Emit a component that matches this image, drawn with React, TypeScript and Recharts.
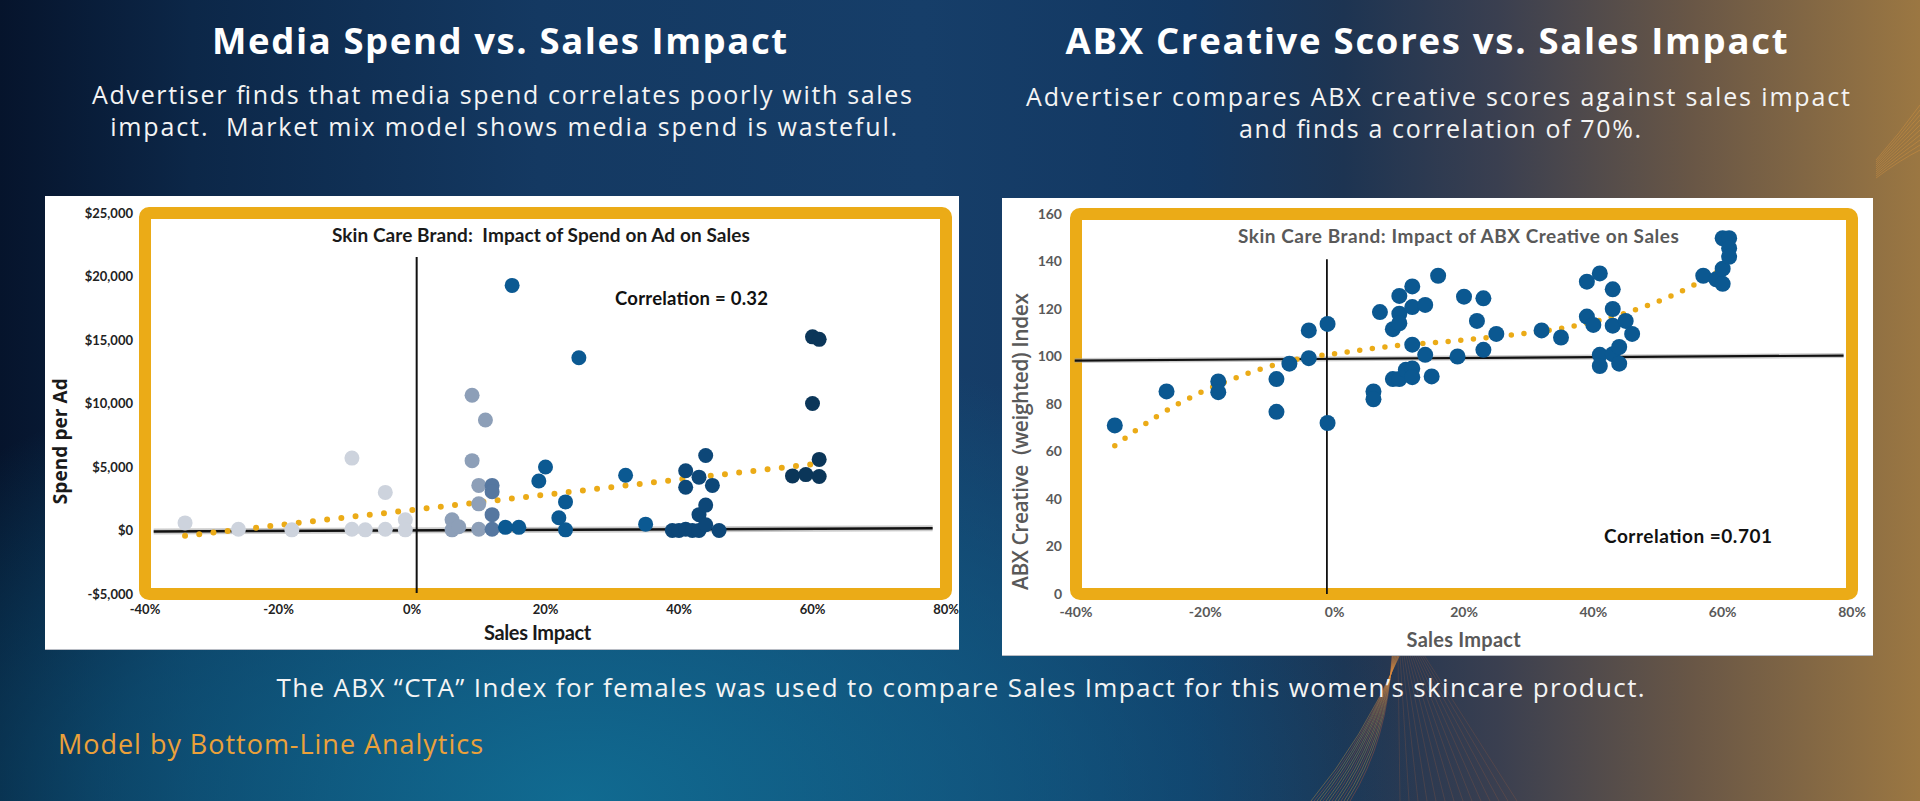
import React from 'react';
import { ComposedChart, Scatter, Line, XAxis, YAxis, ReferenceLine, ReferenceArea } from 'recharts';

// ---------- shared ticks ----------
const impactTicks = [-40, -20, 0, 20, 40, 60, 80];
const spendTicks = [-5000, 0, 5000, 10000, 15000, 20000, 25000];
const indexTicks = [0, 20, 40, 60, 80, 100, 120, 140, 160];

// ---------- left chart: Media spend vs sales impact ----------
const spendLightX = [-34, -26, -18, -9, -9, -7, -4, -4, -1, -1];
const spendLightY = [600, 100, 50, 5700, 100, 50, 3000, 100, 850, 50];
const spendGrayX = [6, 6, 7, 9, 9, 10, 10, 10, 11];
const spendGrayY = [850, 50, 300, 10650, 5500, 3550, 2100, 100, 8700];
const spendSteelX = [12, 12, 12, 12];
const spendSteelY = [3550, 3050, 1250, 100];
const spendBlueX = [14, 15, 16, 19, 20, 22, 23, 23, 25, 32, 35];
const spendBlueY = [250, 19300, 250, 3900, 5000, 1000, 2250, 50, 13600, 4350, 500];
const spendNavyX = [39, 40, 41, 41, 41, 42, 43, 43, 43, 44, 44, 44, 45, 46];
const spendNavyY = [0, 0, 4700, 3400, 100, 0, 4200, 1250, 0, 5900, 2000, 450, 3550, 0];
const spendDarkX = [57, 59, 60, 61, 60, 61, 61];
const spendDarkY = [4300, 4400, 15250, 15050, 10000, 5600, 4250];
const spendTrendX = [-34, 60];
const spendTrendY = [-420, 5220];

// ---------- right chart: ABX creative vs sales impact ----------
const abxX = [-34, -26, -18, -18, -9, -9, -7, -4, -4, -1.1, -1.1, 6, 6, 7, 9, 10, 10, 10, 9, 10,
  11, 12, 12, 12, 12, 12, 14, 14, 15, 16, 19, 20, 22, 23, 23, 25, 32, 35, 39, 39,
  40, 41, 41, 41, 43, 43, 43, 43, 44, 44, 45, 46, 57, 59, 60, 60, 61, 60, 61, 61];
const abxY = [71, 85.3, 89.5, 85, 90.5, 76.7, 97, 111, 99.3, 113.7, 72, 85.3, 82, 118.7, 111.5, 125.5, 118, 114, 90.5, 90.5,
  94.4, 129.5, 120.8, 105, 95, 91.3, 121.7, 100.7, 91.6, 134, 100, 125.2, 115, 124.5, 102.8, 109.5, 111, 108, 131.5, 116.8,
  113.3, 135, 100.7, 96, 128.3, 120, 113, 101, 104, 97, 115, 109.5, 134, 132.5, 130.6, 149.8, 149.8, 137, 145.6, 142];
const abxTrendX = [-34, -27.5, -20.6, -13.6, -6.2, 1.8, 9.3, 17.3, 25.1, 33, 40.6, 47.9, 54.9, 60.2];
const abxTrendY = [62.4, 74.8, 85, 92.7, 98.6, 101.8, 104.5, 106.3, 108.4, 111, 115, 121, 129.2, 137.2];

const zip = (xs: number[], ys: number[]) => xs.map((x, i) => ({ x, y: ys[i] }));

const ORANGE = '#EBAB17';
const NARROW = 'Lato, "Open Sans", sans-serif';
const SANS = '"Open Sans", "Noto Sans", sans-serif';

const dot = (r: number, fill: string) => (p: any) => (
  <circle cx={p.cx} cy={p.cy} r={r} fill={fill} />
);

const fmtPct = (v: number) => `${v}%`;
const fmtMoney = (v: number) => (v < 0 ? `-$${Math.abs(v).toLocaleString('en-US')}` : `$${v.toLocaleString('en-US')}`);

function SpendChart() {
  return (
    <ComposedChart width={914} height={453} margin={{ top: 17, right: 13, bottom: 25, left: 40 }}>
      <XAxis dataKey="x" type="number" domain={[-40, 80]} ticks={impactTicks} tickFormatter={fmtPct}
        axisLine={false} tickLine={false} height={30} tickMargin={5} interval={0}
        tick={{ fill: '#222', fontSize: 13, fontWeight: 700, fontFamily: NARROW }} />
      <YAxis dataKey="y" type="number" domain={[-5000, 25000]} ticks={spendTicks} tickFormatter={fmtMoney}
        axisLine={false} tickLine={false} width={60} tickMargin={6} interval={0}
        tick={{ fill: '#222', fontSize: 13, fontWeight: 700, fontFamily: NARROW }} />
      <ReferenceArea x1={-40} x2={80} y1={-5000} y2={25000} fill="none" stroke={ORANGE} strokeWidth={12} radius={4} ifOverflow="visible" />
      <ReferenceLine segment={[{ x: -38.7, y: -80 }, { x: 78, y: 180 }]} stroke="#9a9a9a" strokeOpacity={0.5} strokeWidth={6} ifOverflow="visible" />
      <ReferenceLine segment={[{ x: -38.7, y: -80 }, { x: 78, y: 180 }]} stroke="#111" strokeWidth={2.5} ifOverflow="visible" />
      <ReferenceLine segment={[{ x: 0.7, y: 21540 }, { x: 0.7, y: -4925 }]} stroke="#111" strokeWidth={2} ifOverflow="visible" />
      <Scatter data={zip(spendLightX, spendLightY)} dataKey="y" isAnimationActive={false} shape={dot(7.5, '#cdd3dd')} />
      <Scatter data={zip(spendGrayX, spendGrayY)} dataKey="y" isAnimationActive={false} shape={dot(7.5, '#8d9fb8')} />
      <Scatter data={zip(spendSteelX, spendSteelY)} dataKey="y" isAnimationActive={false} shape={dot(7.5, '#5677a0')} />
      <Scatter data={zip(spendBlueX, spendBlueY)} dataKey="y" isAnimationActive={false} shape={dot(7.5, '#0b5992')} />
      <Scatter data={zip(spendNavyX, spendNavyY)} dataKey="y" isAnimationActive={false} shape={dot(7.5, '#0d4778')} />
      <Scatter data={zip(spendDarkX, spendDarkY)} dataKey="y" isAnimationActive={false} shape={dot(7.5, '#0b3659')} />
      <Line data={zip(spendTrendX, spendTrendY)} dataKey="y" type="linear" stroke={ORANGE} strokeWidth={6}
        strokeDasharray="0 14.3" strokeLinecap="round" dot={false} activeDot={false} isAnimationActive={false} />
    </ComposedChart>
  );
}

function AbxChart() {
  return (
    <ComposedChart width={871} height={457} margin={{ top: 16, right: 21, bottom: 31, left: 24 }}>
      <XAxis dataKey="x" type="number" domain={[-40, 80]} ticks={impactTicks} tickFormatter={fmtPct}
        axisLine={false} tickLine={false} height={30} tickMargin={7} interval={0}
        tick={{ fill: '#595959', fontSize: 14, fontWeight: 700, fontFamily: NARROW }} />
      <YAxis dataKey="y" type="number" domain={[0, 160]} ticks={indexTicks}
        axisLine={false} tickLine={false} width={50} tickMargin={8} interval={0}
        tick={{ fill: '#595959', fontSize: 14, fontWeight: 700, fontFamily: NARROW }} />
      <ReferenceArea x1={-40} x2={80} y1={0} y2={160} fill="none" stroke={ORANGE} strokeWidth={12} radius={4} ifOverflow="visible" />
      <ReferenceLine segment={[{ x: -40.2, y: 98.3 }, { x: 78.7, y: 100.4 }]} stroke="#9a9a9a" strokeOpacity={0.5} strokeWidth={5} ifOverflow="visible" />
      <ReferenceLine segment={[{ x: -40.2, y: 98.3 }, { x: 78.7, y: 100.4 }]} stroke="#111" strokeWidth={2.2} ifOverflow="visible" />
      <ReferenceLine segment={[{ x: -1.2, y: 141 }, { x: -1.2, y: 0 }]} stroke="#111" strokeWidth={1.8} ifOverflow="visible" />
      <Scatter data={zip(abxX, abxY)} dataKey="y" isAnimationActive={false} shape={dot(8, '#0b5891')} />
      <Line data={zip(abxTrendX, abxTrendY)} dataKey="y" type="monotone" stroke={ORANGE} strokeWidth={5.5}
        strokeDasharray="0 12.7" strokeLinecap="round" dot={false} activeDot={false} isAnimationActive={false} />
    </ComposedChart>
  );
}

// decorative thin line fans of the slide background
const fanBottom = Array.from({ length: 14 }, (_, i) => i);
const fanTop = Array.from({ length: 10 }, (_, i) => i);

export default function App() {
  return (
    <div style={{ position: 'absolute', left: 0, top: 0, width: 1920, height: 801, overflow: 'hidden',
      background: [
        'radial-gradient(ellipse 55% 75% at 30% 100%, rgba(16,112,150,0.9) 0%, rgba(14,100,140,0.55) 45%, rgba(14,90,130,0) 80%)',
        'linear-gradient(90deg, #06142c 0%, #0c2748 10%, #143962 28%, #163e69 48%, #133862 62%, #1d3452 70%, #3a3f50 78%, #685646 88%, #9b7742 100%)',
      ].join(',') }}>
      <style>{'body{margin:0}'}</style>

      {/* slide texts */}
      <svg width={1920} height={801} style={{ position: 'absolute', left: 0, top: 0 }}>
        {fanBottom.map((i) => (
          <path key={'b' + i} d={`M ${1392 + i * 0.6} 655 Q ${1388 - i * 2} 740 ${1350 - i * 3} 801`} stroke={i % 3 === 0 ? '#d0603a' : '#e0a040'} strokeOpacity={0.45} strokeWidth={0.8} fill="none" />
        ))}
        {fanBottom.map((i) => (
          <path key={'c' + i} d={`M ${1398 + i * 2} 655 L ${1400 + i * 9} 801`} stroke="#d0703a" strokeOpacity={0.25} strokeWidth={0.7} fill="none" />
        ))}
        {fanTop.map((i) => (
          <path key={'t' + i} d={`M 1876 ${178 - i * 2} Q 1900 ${160 - i * 3} 1920 ${150 - i * 5}`} stroke="#f0a040" strokeOpacity={0.4} strokeWidth={0.8} fill="none" />
        ))}
        <text x={499.6} y={53.5} textAnchor="middle" fill="#fff" fontFamily={SANS} fontWeight={700} fontSize={36.5} textLength={575}>Media Spend vs. Sales Impact</text>
        <text x={1426.5} y={53.5} textAnchor="middle" fill="#fff" fontFamily={SANS} fontWeight={700} fontSize={36.5} textLength={722}>ABX Creative Scores vs. Sales Impact</text>
        <text x={502} y={103.5} textAnchor="middle" fill="#f4f4f4" fontFamily={SANS} fontSize={25} textLength={820}>Advertiser finds that media spend correlates poorly with sales</text>
        <text x={503.7} y={135.5} textAnchor="middle" fill="#f4f4f4" fontFamily={SANS} fontSize={25} textLength={787} style={{ whiteSpace: 'pre' }}>impact.  Market mix model shows media spend is wasteful.</text>
        <text x={1438} y={105.5} textAnchor="middle" fill="#f4f4f4" fontFamily={SANS} fontSize={25} textLength={824}>Advertiser compares ABX creative scores against sales impact</text>
        <text x={1440} y={137.5} textAnchor="middle" fill="#f4f4f4" fontFamily={SANS} fontSize={25} textLength={402}>and finds a correlation of 70%.</text>
        <text x={960.6} y={696.5} textAnchor="middle" fill="#f4f4f4" fontFamily={SANS} fontSize={26} textLength={1368}>The ABX “CTA” Index for females was used to compare Sales Impact for this women’s skincare product.</text>
        <text x={58} y={754} fill="#EBA13A" fontFamily={SANS} fontSize={27} textLength={425}>Model by Bottom-Line Analytics</text>
      </svg>

      {/* chart panels */}
      <div style={{ position: 'absolute', left: 45, top: 196, width: 914, height: 453, background: '#fff', borderBottom: '1px solid #b8bcc4' }}>
        <SpendChart />
      </div>
      <div style={{ position: 'absolute', left: 1002, top: 198, width: 871, height: 457, background: '#fff', borderBottom: '1px solid #b8bcc4' }}>
        <AbxChart />
      </div>

      {/* chart labels */}
      <svg width={1920} height={801} style={{ position: 'absolute', left: 0, top: 0, pointerEvents: 'none' }}>
        <text x={540.9} y={241.7} textAnchor="middle" fill="#1a1a1a" fontFamily={NARROW} fontWeight={700} fontSize={19} textLength={418} style={{ whiteSpace: 'pre' }}>Skin Care Brand:  Impact of Spend on Ad on Sales</text>
        <text x={615} y={305} fill="#111" fontFamily={NARROW} fontWeight={700} fontSize={18.5} textLength={153}>Correlation = 0.32</text>
        <text x={537.6} y={640} textAnchor="middle" fill="#1a1a1a" fontFamily={NARROW} fontWeight={700} fontSize={20} textLength={107}>Sales Impact</text>
        <text x={60} y={441.2} transform="rotate(-90 60 441.2)" dy={6.8} textAnchor="middle" fill="#1a1a1a" fontFamily={SANS} fontWeight={700} fontSize={19} textLength={126}>Spend per Ad</text>

        <text x={1458.4} y={243.3} textAnchor="middle" fill="#595959" fontFamily={NARROW} fontWeight={700} fontSize={19} textLength={441}>Skin Care Brand: Impact of ABX Creative on Sales</text>
        <text x={1604} y={542.7} fill="#111" fontFamily={NARROW} fontWeight={700} fontSize={19} textLength={168}>Correlation =0.701</text>
        <text x={1463.6} y={647.3} textAnchor="middle" fill="#595959" fontFamily={NARROW} fontWeight={700} fontSize={20} textLength={114}>Sales Impact</text>
        <text x={1020} y={441.5} transform="rotate(-90 1020 441.5)" dy={7.5} textAnchor="middle" fill="#595959" fontFamily={SANS} fontWeight={600} fontSize={21} textLength={297} style={{ whiteSpace: 'pre' }}>ABX Creative  (weighted) Index</text>
      </svg>
    </div>
  );
}
